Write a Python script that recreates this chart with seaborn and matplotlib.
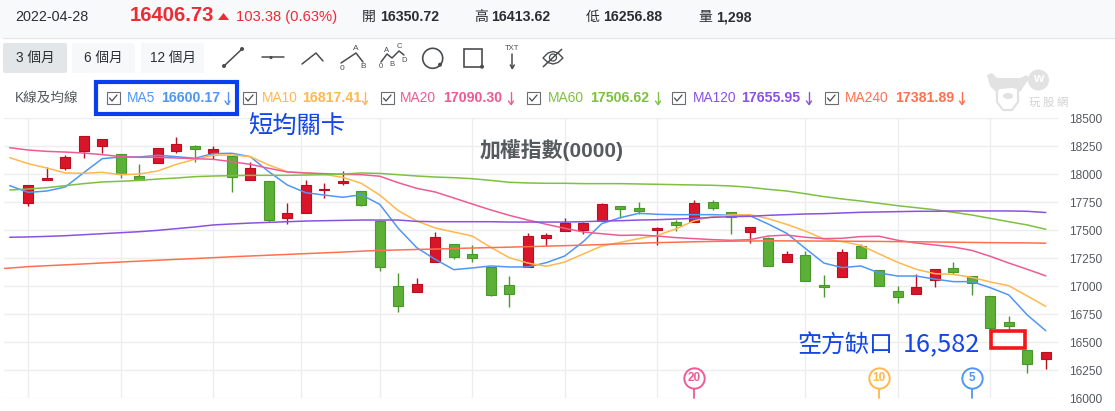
import matplotlib
matplotlib.use("Agg")
import matplotlib.pyplot as plt
from matplotlib.patches import Rectangle, FancyBboxPatch, Circle, Ellipse, Polygon
import numpy as np
import pandas as pd
import seaborn as sns

# Daily candles: open, close, high, low
opens = [17744,17949,18057,18208,18253,18176,17979,18101,18208,18247,18190,18158,17949,17935,17610,17655,17860,17920,17845,17577,
         16997,16943,17217,17372,17283,17173,17006,17167,17432,17494,17503,17577,17711,17693,17503,17568,17568,17747,17658,17479,
         17426,17211,17274,17006,17077,17354,17140,16952,16926,17050,17158,17086,16908,16676,16426,16350.72]
closes = [17899,17964,18149,18336,18310,17997,17949,18229,18265,18226,18220,17970,18051,17592,17649,17899,17866,17935,17726,17173,
          16818,17015,17435,17262,17253,16923,16932,17443,17452,17559,17559,17729,17690,17672,17515,17542,17738,17693,17619,17524,
          17176,17283,17042,16988,17301,17247,16997,16899,16988,17149,17122,17024,16622,16640,16301,16406.73]
highs = [17899,18060,18170,18336,18310,18176,18086,18229,18327,18259,18247,18158,18104,17935,17738,17943,17917,18024,17845,17577,
         17113,17068,17479,17372,17363,17173,17086,17473,17473,17604,17568,17738,17711,17747,17524,17589,17768,17768,17658,17524,
         17435,17310,17310,17095,17327,17372,17140,16997,17104,17149,17211,17086,16908,16729,16426,16413.62]
lows = [17717,17949,18039,18146,18187,17967,17949,18101,18190,18104,18131,17842,17949,17568,17554,17655,17789,17902,17717,17137,
        16771,16943,17217,17244,17217,16911,16816,17167,17360,17494,17467,17577,17604,17640,17369,17494,17568,17681,17467,17387,
        17176,17211,17042,16905,17077,17247,16997,16851,16926,16988,17104,16923,16592,16592,16226,16256.88]

# Moving averages, first entry one session before the first candle
ma5 = [17896,17836,17848,17884,18012,18137,18152,18152,18167,18155,18140,18182,18185,18155,18021,17902,17833,17812,17792,17815,
       17729,17515,17342,17238,17146,17161,17179,17170,17170,17208,17268,17396,17557,17610,17649,17640,17637,17637,17637,17631,
       17628,17553,17470,17336,17205,17164,17179,17116,17089,17089,17062,17039,17039,16985,16920,16741,16600.17]
ma10 = [18146,18092,18054,18009,18006,18015,17994,18000,18027,18086,18131,18167,18170,18155,18080,18021,18009,17997,17970,17917,
        17812,17673,17580,17518,17482,17446,17345,17253,17205,17176,17214,17286,17357,17390,17423,17452,17509,17583,17619,17634,
        17637,17601,17550,17491,17420,17396,17363,17286,17211,17149,17110,17104,17077,17036,17003,16911,16817.41]
ma20 = [18235,18214,18202,18196,18187,18173,18155,18149,18149,18143,18137,18131,18110,18086,18051,18018,18009,18003,17997,17994,
        17980,17922,17872,17839,17786,17732,17679,17631,17589,17551,17515,17482,17467,17452,17455,17446,17432,17423,17414,17408,
        17414,17446,17455,17435,17423,17426,17441,17444,17408,17384,17366,17348,17318,17265,17205,17149,17090.30]
ma60 = [17857,17866,17878,17896,17914,17929,17935,17943,17955,17964,17976,17982,17985,17988,17988,17988,17991,17994,18000,18009,
        18005,17994,17982,17973,17967,17958,17943,17926,17920,17917,17917,17914,17914,17914,17911,17908,17905,17902,17899,17893,
        17881,17863,17848,17824,17798,17777,17759,17738,17717,17699,17681,17658,17634,17604,17574,17545,17506.62]
ma120 = [17435,17438,17443,17449,17458,17467,17476,17485,17497,17512,17527,17545,17554,17562,17568,17574,17580,17583,17586,17589,
         17589,17589,17577,17574,17574,17574,17574,17571,17571,17571,17571,17574,17580,17583,17589,17592,17598,17604,17613,17619,
         17622,17631,17637,17643,17646,17652,17658,17661,17664,17667,17667,17670,17670,17670,17670,17667,17655.95]
ma240 = [17160,17173,17181,17189,17197,17206,17214,17222,17230,17238,17245,17253,17261,17268,17275,17282,17289,17296,17303,17311,
         17318,17322,17326,17330,17335,17339,17343,17347,17351,17356,17360,17365,17370,17376,17382,17387,17391,17395,17398,17400,
         17402,17403,17403,17402,17401,17400,17399,17398,17396,17395,17393,17391,17389,17387,17386,17385,17381.89]

ma_names = ["MA5", "MA10", "MA20", "MA60", "MA120", "MA240"]
ma_values = [ma5, ma10, ma20, ma60, ma120, ma240]
ma_labels = ["16600.17", "16817.41", "17090.30", "17506.62", "17655.95", "17381.89"]
ma_colors = ["#4f97f5", "#ffb84d", "#ee5b94", "#7fc040", "#8a52e0", "#ff7050"]

y_ticks = list(range(16000, 18750, 250))
x_grid = [0, 5, 10, 14.75, 19, 24, 29, 34, 42, 47, 52]
countdown_marks = [(36, "20", "#ee5b94"), (46, "10", "#ffb84d"), (51, "5", "#4f97f5")]

W, H = 1115, 411
UP, UP_EDGE = "#d9152a", "#b8101f"
DOWN, DOWN_EDGE = "#5cb035", "#4a982c"
TEXT = "#2b2f33"
FONT = ["Liberation Sans", "Noto Sans CJK TC", "DejaVu Sans"]
CJK = ["Noto Sans CJK TC", "Liberation Sans", "DejaVu Sans"]

sns.set_theme(style="white")
plt.rcParams["font.family"] = FONT
fig = plt.figure(figsize=(W / 100, H / 100), dpi=100, facecolor="white")

# Page chrome lives on an overlay measured in pixels
ui = fig.add_axes([0, 0, 1, 1], zorder=3)
ui.set_xlim(0, W)
ui.set_ylim(H, 0)
ui.axis("off")
ui.patch.set_alpha(0)

# Price panel
px_left, px_right, px_top, px_bottom = 4, 1058, 118, 398
ax = fig.add_axes([px_left / W, 1 - px_bottom / H, (px_right - px_left) / W, (px_bottom - px_top) / H], zorder=2)
ax.patch.set_alpha(0)
for s in ax.spines.values():
    s.set_visible(False)
ax.set_xticks(x_grid)
ax.set_yticks(y_ticks)
ax.yaxis.tick_right()
ax.tick_params(axis="y", length=0, pad=8, labelsize=8.6, labelcolor="#555a60")
ax.tick_params(axis="x", length=0, labelbottom=False)
ax.grid(True, axis="y", color="#eceded", lw=1)
ax.grid(True, axis="x", color="#ecedee", lw=1)
ax.set_axisbelow(True)

idx = np.arange(len(opens))
o, c, h, l = map(np.array, (opens, closes, highs, lows))
rising = c >= o
ax.vlines(idx[rising], l[rising], h[rising], color=UP_EDGE, lw=1.0, zorder=3)
ax.vlines(idx[~rising], l[~rising], h[~rising], color=DOWN_EDGE, lw=1.0, zorder=3)
ax.bar(idx, np.abs(c - o), bottom=np.minimum(o, c), width=0.56,
       color=np.where(rising, UP, DOWN), edgecolor=np.where(rising, UP_EDGE, DOWN_EDGE),
       linewidth=0.8, zorder=4)

frame = pd.concat(
    [pd.DataFrame({"session": np.arange(-1, len(v) - 1), "price": v, "line": n})
     for n, v in zip(ma_names, ma_values)], ignore_index=True)
early = pd.DataFrame({"session": [-2], "price": [17150], "line": ["MA240"]})
frame = pd.concat([early, frame], ignore_index=True)
sns.lineplot(data=frame, x="session", y="price", hue="line", hue_order=ma_names,
             palette=ma_colors, estimator=None, sort=True, lw=1.1, legend=False,
             ax=ax, zorder=5)
ax.set_xlabel("")
ax.set_ylabel("")
ax.set_xlim(-1.31, 55.66)
ax.set_ylim(16000, 18500)

# Countdown bubbles on the sessions that leave each short average
for pos, tag, col in countdown_marks:
    ax.plot([pos, pos], [16000, 16100], color=col, lw=1.3, zorder=5, clip_on=False)
    ax.scatter([pos], [16180], s=215, facecolor="white", edgecolor=col, linewidth=1.4, zorder=6)
    ax.text(pos, 16178, tag, color=col, fontsize=8.5, fontweight="bold", ha="center", va="center", zorder=7)

# Bearish gap box
ax.add_patch(Rectangle((52.03, 16448), 1.82, 148, fill=False, edgecolor="#f01818", lw=2.6, zorder=7))

# Header band
ui.add_patch(Rectangle((0, 0), W, 38, facecolor="#f8f9fa", edgecolor="none"))
ui.plot([3, W], [38, 38], color="#e6e8ea", lw=1)
def t(x, y, s, size=10.4, color=TEXT, weight="normal", family=None, ha="left"):
    ui.text(x, y, s, fontsize=size, color=color, fontweight=weight, family=family or FONT, ha=ha, va="center")

t(15, 17, "2022-04-28", 10.4)
t(130, 15.5, "16406.73", 14.6, "#ee2a35", "bold")
ui.add_patch(Polygon([(218, 20), (229, 20), (223.5, 13)], facecolor="#ee2a35", edgecolor="none"))
t(236, 17, "103.38 (0.63%)", 10.6, "#ee2a35")
for lx, vx, lab, val in [(362, 380, "開", "16350.72"), (474, 491, "高", "16413.62"),
                         (586, 603, "低", "16256.88"), (698, 716, "量", "1,298")]:
    t(lx, 17, lab, 10, TEXT, family=CJK)
    t(vx, 17, val, 10.2, TEXT, "bold")

# Range buttons
for x0, x1, lab, fc in [(3, 67, "3 個月", "#e3e6e8"), (72, 135, "6 個月", "#f7f8f9"), (141, 204, "12 個月", "#f7f8f9")]:
    ui.add_patch(FancyBboxPatch((x0 + 2, 45), x1 - x0 - 4, 26, boxstyle="round,pad=2", facecolor=fc, edgecolor="none"))
    t((x0 + x1) / 2, 58, lab, 9.8, TEXT, ha="center", family=FONT)

# Drawing tool icons
ink = "#4a4d50"
def stroke(xs, ys, lw=1.1):
    ui.plot(xs, ys, color=ink, lw=lw, solid_capstyle="round")
def dot(x, y, r=2):
    ui.add_patch(Circle((x, y), r, facecolor=ink, edgecolor="none"))
stroke([224, 242], [66, 49]); dot(224, 66); dot(242, 49)
stroke([262, 284], [57.5, 57.5]); dot(271, 57.5, 1.6)
stroke([302, 316, 323], [64, 53, 61])
stroke([341, 356, 363], [63, 53, 62])
t(356, 48, "A", 6, ink, ha="center"); t(342, 69, "0", 6, ink, ha="center"); t(363, 66, "B", 6, ink, ha="center")
stroke([381, 387, 392, 399, 404], [62, 54, 58, 51, 55])
for lx, ly, s in [(387, 50, "A"), (399, 46, "C"), (392, 64, "B"), (404, 60, "D"), (381, 67, "0")]:
    t(lx, ly, s, 5.5, ink, ha="center")
ui.add_patch(Circle((432.7, 58.3), 10, fill=False, edgecolor=ink, lw=1.2)); dot(440, 64.7)
ui.add_patch(Rectangle((464, 49.3), 18, 17.4, fill=False, edgecolor=ink, lw=1.2)); dot(482, 66.7)
t(512.3, 48.3, "TXT", 5.5, ink, ha="center")
stroke([512.3, 512.3], [54, 68]); stroke([510.3, 512.3, 514.3], [65, 68.5, 65])
ui.add_patch(Polygon([(543, 58), (548, 53), (553, 51.5), (558, 53), (563, 58), (558, 62.5), (553, 64), (548, 62.5)],
                     fill=False, edgecolor=ink, lw=1.0))
ui.add_patch(Circle((553, 57.5), 3.5, fill=False, edgecolor=ink, lw=0.9))
stroke([543.3, 561.7], [66.7, 49.3])

# Moving average legend
t(15, 98, "K線及均線", 9.8, "#555a60", family=FONT)
legend_x = [(107, 127, 161, 227.5), (243, 262, 302, 365), (381, 400, 443, 511),
            (527, 548, 590, 658), (672, 693, 741, 809), (825, 845, 895, 962)]
for (bx, nx, vx, ar), name, val, col in zip(legend_x, ma_names, ma_labels, ma_colors):
    ui.add_patch(Rectangle((bx, 92), 12.5, 12.5, facecolor="white", edgecolor="#6a6d70", lw=0.8))
    stroke([bx + 2.5, bx + 5, bx + 10], [98, 101, 95], lw=0.9)
    t(nx, 98, name, 9.9, col)
    t(vx, 98, val, 10.2, col, "bold")
    ui.plot([ar, ar], [92, 104], color=col, lw=1)
    ui.plot([ar - 2.5, ar, ar + 2.5], [101, 104.5, 101], color=col, lw=1)
ui.add_patch(Rectangle((95.5, 82), 141, 32, fill=False, edgecolor="#0a3ff0", lw=3))

# Watermark
mark = "#e2e2e2"
ui.add_patch(Polygon([(987, 75), (992, 73), (998, 79), (1008, 78), (1018, 79), (1027, 75), (1029, 79), (1024, 86),
                      (1020, 92), (1012, 88), (1000, 88), (996, 92), (990, 86)], facecolor=mark, edgecolor="none"))
ui.add_patch(Polygon([(997, 84), (1018, 84), (1018, 102), (1012, 110), (1003, 110), (997, 102)],
                     facecolor="white", edgecolor=mark, lw=1.6, zorder=1.5))
ui.add_patch(Polygon([(997, 78), (1020, 78), (1022, 90), (1012, 88), (1000, 89), (996, 92)],
                     facecolor=mark, edgecolor="none", zorder=1.6))
ui.add_patch(Ellipse((1008, 96), 10, 6, facecolor=mark, edgecolor="none", zorder=1.7))
ui.add_patch(Circle((1038.5, 80), 10.5, facecolor=mark, edgecolor="none"))
ui.text(1038.5, 79, "w", fontsize=9.5, color="white", fontweight="bold", ha="center", va="center")
for gx, ch in zip((1034, 1048, 1062), "玩股網"):
    t(gx, 103, ch, 8.2, "#d2d2d2", family=CJK, ha="center")

# Annotations
t(248, 126, "短均關卡", 17.5, "#1246e6", family=CJK)
t(480, 150, "加權指數(0000)", 15, "#555a5e", "bold", family=FONT)
t(797, 345, "空方缺口", 17.3, "#1246e6", family=CJK)
t(903, 344, "16,582", 18.2, "#1246e6", family=CJK)

fig.savefig("out.png", dpi=100)
